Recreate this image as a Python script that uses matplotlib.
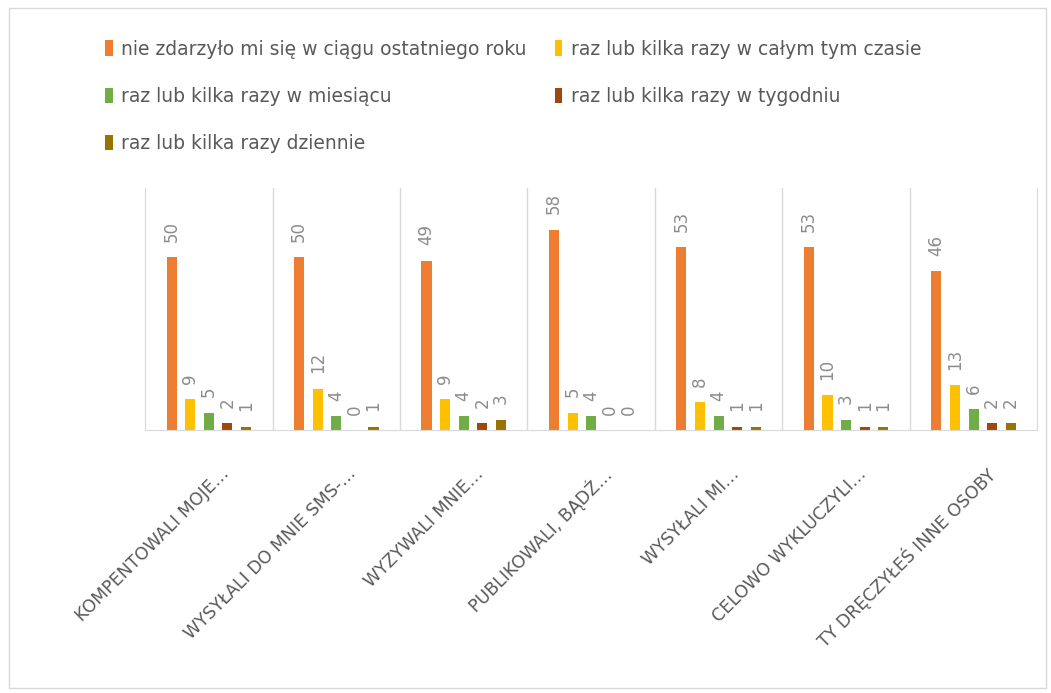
import matplotlib.pyplot as plt
import matplotlib.transforms as mtransforms
from matplotlib.patches import Rectangle
import numpy as np

categories = [
    "KOMPENTOWALI MOJE…",
    "WYSYŁALI DO MNIE SMS-…",
    "WYZYWALI MNIE…",
    "PUBLIKOWALI, BĄDŹ…",
    "WYSYŁALI MI…",
    "CELOWO WYKLUCZYLI…",
    "TY DRĘCZYŁEŚ INNE OSOBY",
]
series_names = [
    "nie zdarzyło mi się w ciągu ostatniego roku",
    "raz lub kilka razy w całym tym czasie",
    "raz lub kilka razy w miesiącu",
    "raz lub kilka razy w tygodniu",
    "raz lub kilka razy dziennie",
]
never = [50, 50, 49, 58, 53, 53, 46]
whole_time = [9, 12, 9, 5, 8, 10, 13]
monthly = [5, 4, 4, 4, 4, 3, 6]
weekly = [2, 0, 2, 0, 1, 1, 2]
daily = [1, 1, 3, 0, 1, 1, 2]
series = [never, whole_time, monthly, weekly, daily]
colors = ["#ED7D31", "#FFC000", "#70AD47", "#9E480E", "#997300"]

plt.rcParams['font.family'] = ['DejaVu Sans']
fig = plt.figure(figsize=(10.51, 6.93), dpi=100)
ax = fig.add_axes([0.138, 0.3795, 0.849, 0.349])

x = np.arange(len(categories))
pitch = 0.146
width = 0.079
handles = []
for i, (vals, col) in enumerate(zip(series, colors)):
    pos = x + (i - 2) * pitch
    bars = ax.bar(pos, vals, width=width, color=col, label=series_names[i])
    handles.append(bars)
    for px, v in zip(pos, vals):
        ax.annotate(str(v), (px, v), xytext=(0, 11), textcoords='offset points',
                    rotation=90, ha='center', va='bottom', fontsize=12, color='#8c8c8c')

ax.set_xlim(-0.5, len(categories) - 0.5)
ax.set_ylim(0, 70)
ax.set_yticks([])
ax.set_xticks(x)
ax.set_xticklabels(categories, rotation=45, ha='right', va='top', rotation_mode='anchor',
                   fontsize=12.5, color='#595959')
ax.tick_params(axis='x', length=0, pad=25)
offset = mtransforms.ScaledTranslation(0.11, 0, fig.dpi_scale_trans)
for lbl in ax.get_xticklabels():
    lbl.set_transform(lbl.get_transform() + offset)

# category separators
for b in np.arange(0.5, len(categories) - 0.5, 1):
    ax.axvline(b, color='#d9d9d9', lw=1)
for s in ['left', 'right', 'bottom']:
    ax.spines[s].set_color('#d9d9d9')
ax.spines['top'].set_visible(False)

# legend row-wise order in 2 columns
order = [0, 2, 4, 1, 3]
leg = fig.legend([handles[k] for k in order], [series_names[k] for k in order],
                 loc='upper left', bbox_to_anchor=(0.084, 0.967), ncol=2, frameon=False,
                 fontsize=13.5, labelcolor='#595959', handlelength=0.4, handleheight=0.9,
                 handletextpad=0.45, columnspacing=1.5, labelspacing=1.5)

fig.patches.append(Rectangle((0.009, 0.007), 0.986, 0.981, transform=fig.transFigure,
                             fill=False, edgecolor='#d9d9d9', lw=1))

fig.savefig("out.png", dpi=100)
